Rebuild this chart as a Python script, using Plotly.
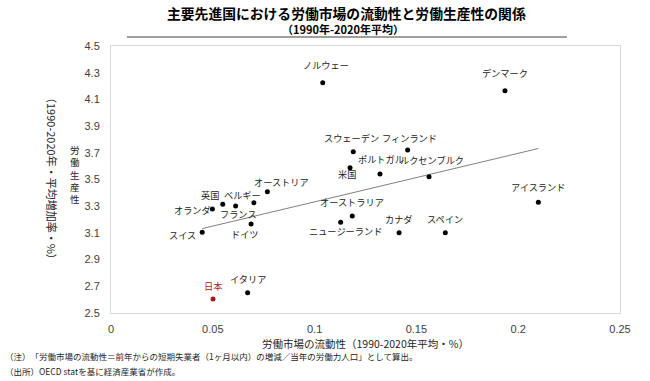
import numpy as np
import plotly.graph_objects as go

# ---------------- data ----------------
countries = ["ノルウェー", "デンマーク", "スウェーデン", "フィンランド", "ポルトガル", "米国",
             "ルクセンブルク", "アイスランド", "オーストラリア", "ニュージーランド", "カナダ",
             "スペイン", "オーストリア", "英国", "ベルギー", "フランス", "オランダ", "ドイツ",
             "スイス", "イタリア", "日本"]
mobility = [0.104, 0.1935, 0.119, 0.1457, 0.1321, 0.1174,
            0.1562, 0.2099, 0.1185, 0.1128, 0.1415,
            0.1642, 0.0768, 0.0549, 0.0702, 0.0612, 0.0498, 0.0688,
            0.0448, 0.0671, 0.0501]
productivity = [4.225, 4.165, 3.708, 3.721, 3.541, 3.588,
                3.521, 3.329, 3.227, 3.179, 3.101,
                3.101, 3.409, 3.314, 3.326, 3.301, 3.279, 3.167,
                3.104, 2.652, 2.605]
x_ticks = [0, 0.05, 0.1, 0.15, 0.2, 0.25]
x_tick_labels = ["0", "0.05", "0.1", "0.15", "0.2", "0.25"]
y_ticks = [2.5, 2.7, 2.9, 3.1, 3.3, 3.5, 3.7, 3.9, 4.1, 4.3, 4.5]
y_tick_labels = ["2.5", "2.7", "2.9", "3.1", "3.3", "3.5", "3.7", "3.9", "4.1", "4.3", "4.5"]

title_text = "主要先進国における労働市場の流動性と労働生産性の関係"
subtitle_text = "（1990年-2020年平均）"
x_title = "労働市場の流動性（1990-2020年平均・%）"
y_title_main = "労働生産性"
y_title_sub = "（1990-2020年・平均増加率・%）"
note1 = "（注）　「労働市場の流動性＝前年からの短期失業者（1ヶ月以内）の増減／当年の労働力人口」として算出。"
note2 = "（出所）OECD statを基に経済産業省が作成。"
highlight = "日本"

# ---------------- styling / layout ----------------
W, H = 650, 381
L, R, T, B = 111, 620, 46, 313   # plot area in pixels
JP = "Noto Sans CJK JP"
NUM = "Liberation Sans, Arial"
RED = "#A5191E"

def px(xp):
    return (xp - L) / (R - L)

def py(yp):
    return (B - yp) / (B - T)

# label offsets (pixels: dx right, dy down) relative to each point
label_offsets = {
    "ノルウェー": (3, -18), "デンマーク": (0, -18), "スウェーデン": (-2, -14),
    "フィンランド": (2, -12), "ポルトガル": (1, -15), "米国": (-3, 6),
    "ルクセンブルク": (3, -17), "アイスランド": (0, -15), "オーストラリア": (0, -14),
    "ニュージーランド": (5, 9), "カナダ": (0, -14), "スペイン": (0, -14),
    "オーストリア": (14, -10), "英国": (-13, -9), "ベルギー": (-11, -8),
    "フランス": (3, 8), "オランダ": (-20, 1), "ドイツ": (-6, 10),
    "スイス": (-20, 3), "イタリア": (0, -14), "日本": (0, -13),
}

fig = go.Figure()

# linear trend line (least squares over the data)
slope, intercept = np.polyfit(mobility, productivity, 1)
xr = np.array([min(mobility), max(mobility)])
fig.add_trace(go.Scatter(x=xr, y=slope * xr + intercept, mode="lines",
                         line=dict(color="#808080", width=1), hoverinfo="skip",
                         showlegend=False))

colors = [RED if c == highlight else "#000000" for c in countries]
fig.add_trace(go.Scatter(x=mobility, y=productivity, mode="markers",
                         marker=dict(color=colors, size=5), text=countries,
                         showlegend=False))

annotations = []
for c, xv, yv in zip(countries, mobility, productivity):
    dx, dy = label_offsets[c]
    annotations.append(dict(x=xv, y=yv, xref="x", yref="y", text=c, showarrow=False,
                            xshift=dx, yshift=-dy, xanchor="center", yanchor="middle",
                            font=dict(family=JP, size=9.2,
                                      color=RED if c == highlight else "#1a1a1a")))


def paper_text(xp, yp, text, size, color="#262626", bold=False, xanchor="center", angle=0):
    return dict(x=px(xp), y=py(yp), xref="paper", yref="paper",
                text=("<b>" + text + "</b>") if bold else text,
                showarrow=False, xanchor=xanchor, yanchor="middle", textangle=angle,
                font=dict(family=JP, size=size, color=color))


annotations.append(paper_text(346, 12.5, title_text, 13.8, "#000000", bold=True))
annotations.append(paper_text(343, 29.5, subtitle_text, 11, "#000000", bold=True))
annotations.append(paper_text(365, 343, x_title, 10.5))
annotations.append(paper_text(75, 174, "<br>".join(y_title_main), 9.5))
annotations.append(paper_text(52, 178, y_title_sub, 11, angle=90))
annotations.append(paper_text(3, 356, note1, 8.5, xanchor="left"))
annotations.append(paper_text(3, 371, note2, 8.5, xanchor="left"))

shapes = [dict(type="line", xref="paper", yref="paper", x0=px(127), x1=px(567), y0=py(37), y1=py(37),
               line=dict(color="#404040", width=1))]

fig.update_layout(
    width=W, height=H,
    margin=dict(l=L, r=W - R, t=T, b=H - B),
    paper_bgcolor="white", plot_bgcolor="white",
    showlegend=False,
    annotations=annotations, shapes=shapes,
    xaxis=dict(range=[0, 0.25], tickvals=x_ticks, ticktext=x_tick_labels, showgrid=False,
               zeroline=False, showline=True, linecolor="#D9D9D9", mirror=True, ticks="",
               tickfont=dict(family=NUM, size=11, color="#404040"), ticklabelstandoff=6),
    yaxis=dict(range=[2.5, 4.5], tickvals=y_ticks, ticktext=y_tick_labels, showgrid=False,
               zeroline=False, showline=True, linecolor="#D9D9D9", mirror=True, ticks="",
               tickfont=dict(family=NUM, size=11, color="#404040"), ticklabelstandoff=8),
)

fig.write_html("out.html", config={"displayModeBar": False},
               post_script="document.body.style.margin='0';")
